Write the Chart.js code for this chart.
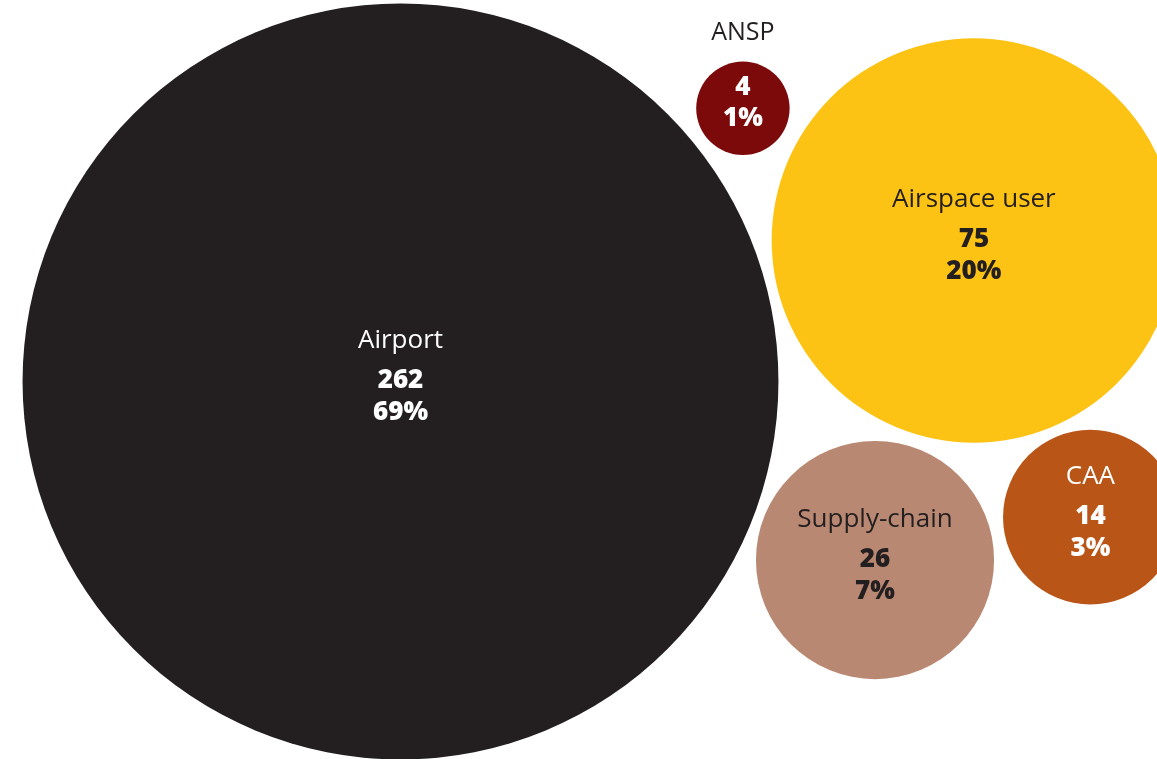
<!DOCTYPE html>
<html>
<head>
<meta charset="utf-8">
<title>Respondents by stakeholder group</title>
<script src="https://cdn.jsdelivr.net/npm/chart.js@4"></script>
<style>
  html, body { margin: 0; padding: 0; background: #ffffff; }
  #wrap { position: relative; width: 1157px; height: 759px; }
</style>
</head>
<body>
<div id="wrap"><canvas id="chart"></canvas></div>
<script>
// Stakeholder groups, respondent counts and their shares
const categories = ['Airport', 'Airspace user', 'ANSP', 'Supply-chain', 'CAA'];
const counts = [262, 75, 4, 26, 14];
const shares = [69, 20, 1, 7, 3];

// Look of each bubble
const fills = ['#231f20', '#fdc314', '#7d0a0b', '#b98872', '#b95516'];
const textColors = ['#ffffff', '#231f20', '#ffffff', '#231f20', '#ffffff'];
const nameOutside = [false, false, true, false, false];

const W = 1157, H = 759;
const radiusPerSqrt = 23.35;   // bubble area proportional to count
const radii = counts.map(v => radiusPerSqrt * Math.sqrt(v));

// Packing: each bubble sits beside one or two bubbles already placed
function beside(a, ra, angle, r, gap) {
  const d = ra + r + gap;
  return { x: a.x + d * Math.cos(angle), y: a.y + d * Math.sin(angle) };
}
function between(a, ra, gapA, b, rb, gapB, r, side) {
  const da = ra + r + gapA, db = rb + r + gapB;
  const dx = b.x - a.x, dy = b.y - a.y;
  const d = Math.hypot(dx, dy);
  const ux = dx / d, uy = dy / d;
  const along = (da * da - db * db + d * d) / (2 * d);
  const h = Math.sqrt(Math.max(0, da * da - along * along));
  return {
    x: a.x + along * ux + side * h * uy,
    y: a.y + along * uy - side * h * ux
  };
}

const centres = [];
centres[0] = { x: 400.5, y: 381.5 };
centres[1] = beside(centres[0], radii[0], Math.atan2(-141, 573.2), radii[1], 10.3);
centres[2] = between(centres[0], radii[0], 13.4, centres[1], radii[1], 17.2, radii[2], 1);
centres[3] = between(centres[0], radii[0], 10, centres[1], radii[1], 13.3, radii[3], -1);
centres[4] = between(centres[1], radii[1], 10.6, centres[3], radii[3], 13.2, radii[4], 1);

const points = categories.map((c, i) => ({ x: centres[i].x, y: centres[i].y, r: radii[i] }));

const FONT = "'Open Sans', 'Noto Sans', sans-serif";

const bubbleLabels = {
  id: 'bubbleLabels',
  afterDatasetsDraw(chart) {
    const ctx = chart.ctx;
    const meta = chart.getDatasetMeta(0);
    ctx.save();
    ctx.textAlign = 'center';
    ctx.textBaseline = 'middle';
    meta.data.forEach((el, i) => {
      const x = el.x, y = el.y;
      if (nameOutside[i]) {
        ctx.fillStyle = '#231f20';
        ctx.font = '400 25px ' + FONT;
        ctx.fillText(categories[i], x, y - radii[i] - 29);
        ctx.fillStyle = textColors[i];
        ctx.font = '800 26px ' + FONT;
        ctx.fillText(String(counts[i]), x, y - 21);
        ctx.fillText(shares[i] + '%', x, y + 10);
      } else {
        ctx.fillStyle = textColors[i];
        ctx.font = '400 26px ' + FONT;
        ctx.fillText(categories[i], x, y - 41);
        ctx.font = '800 26px ' + FONT;
        ctx.fillText(String(counts[i]), x, y - 1);
        ctx.fillText(shares[i] + '%', x, y + 31);
      }
    });
    ctx.restore();
  }
};

new Chart(document.getElementById('chart'), {
  type: 'bubble',
  data: {
    datasets: [{
      data: points,
      backgroundColor: fills,
      borderWidth: 0,
      hoverBorderWidth: 0,
      hoverRadius: 0,
      clip: false
    }]
  },
  options: {
    responsive: true,
    maintainAspectRatio: false,
    animation: false,
    events: [],
    layout: { padding: 0, autoPadding: false },
    plugins: { legend: { display: false }, tooltip: { enabled: false } },
    scales: {
      x: { type: 'linear', min: 0, max: W, display: false },
      y: { type: 'linear', min: 0, max: H, reverse: true, display: false }
    }
  },
  plugins: [bubbleLabels]
});
</script>
</body>
</html>
